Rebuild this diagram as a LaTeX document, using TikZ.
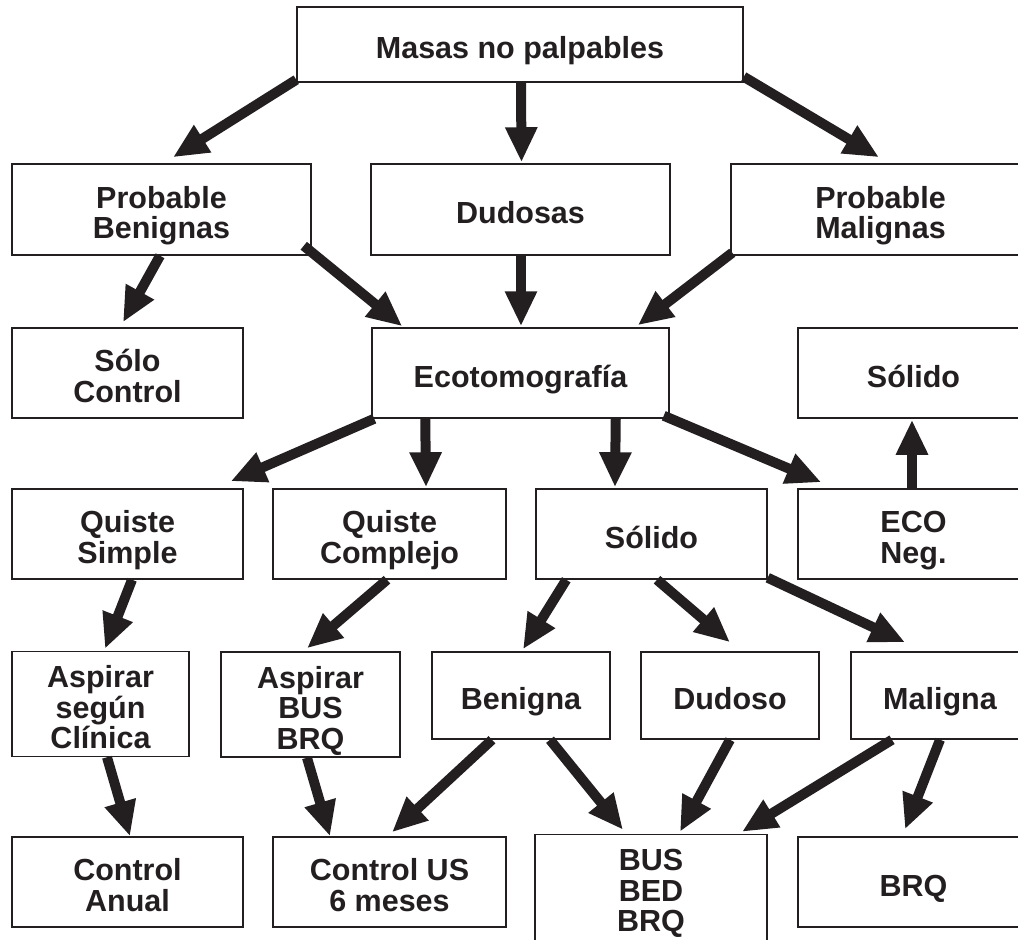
\documentclass[tikz,border=0pt]{standalone}
\usepackage{fontspec}
\setmainfont{Liberation Sans}
\usetikzlibrary{arrows.meta}
\definecolor{ink}{HTML}{231F20}
\newcommand\topst{\rule{0pt}{36pt}}
\newcommand\botst{\rule[-8pt]{0pt}{8pt}}
\newcommand\botlow{\rule[-28pt]{0pt}{28pt}}
\setlength{\lineskiplimit}{-30pt}
\tikzset{
  box/.style={draw=ink, line width=1.5pt, inner sep=0pt, align=center,
    text=ink, font=\fontsize{30.5}{30.5}\selectfont\bfseries},
  arr/.style={draw=ink, line width=10pt,
    -{Triangle[length=35pt,width=30pt]}},
}
\begin{document}
\begin{tikzpicture}[x=1pt,y=1pt]
\useasboundingbox (0,0) rectangle (1018,-940);
\clip (0,0) rectangle (1018,-940);
% row 1
\node[box, minimum width=446pt, minimum height=75pt] (masas) at (520,-44.5) {\topst Masas no palpables\botst};
% row 2
\node[box, minimum width=299pt, minimum height=91pt] (pb) at (161.5,-209.5) {\topst Probable\\Benignas\botst};
\node[box, minimum width=299pt, minimum height=91pt] (dud) at (520.5,-209.5) {\topst Dudosas\botst};
\node[box, minimum width=299pt, minimum height=91pt] (pm) at (880.5,-209.5) {\topst Probable\\Malignas\botst};
% row 3
\node[box, minimum width=231pt, minimum height=90pt] (solo) at (127.5,-373) {\topst Sólo\\Control\botst};
\node[box, minimum width=297pt, minimum height=90pt] (eco) at (520.5,-373) {\topst Ecotomografía\botst};
\node[box, minimum width=231pt, minimum height=90pt] (soltop) at (913.5,-373) {\topst Sólido\botst};
% row 4
\node[box, minimum width=231pt, minimum height=90pt] (qs) at (127.5,-534) {\topst Quiste\\Simple\botst};
\node[box, minimum width=233pt, minimum height=90pt] (qc) at (389.5,-534) {\topst Quiste\\Complejo\botst};
\node[box, minimum width=231pt, minimum height=90pt] (sol) at (651.5,-534) {\topst Sólido\botst};
\node[box, minimum width=231pt, minimum height=90pt] (econeg) at (913.5,-534) {\topst ECO\\Neg.\botst};
% row 5
\node[box, minimum width=177pt, minimum height=104pt] (asc) at (100.5,-704) {\topst Aspirar\\según\\Clínica\botst};
\node[box, minimum width=179pt, minimum height=105pt] (abb) at (310.5,-704.5) {\topst Aspirar\\BUS\\BRQ\botst};
\node[box, minimum width=178pt, minimum height=87pt] (ben) at (521,-695.5) {\topst Benigna\botst};
\node[box, minimum width=178pt, minimum height=87pt] (dudo) at (730,-695.5) {\topst Dudoso\botst};
\node[box, minimum width=178pt, minimum height=87pt] (mal) at (940,-695.5) {\topst Maligna\botst};
% row 6
\node[box, minimum width=231pt, minimum height=90pt] (ca) at (127.5,-882) {\topst Control\\Anual\botst};
\node[box, minimum width=233pt, minimum height=90pt] (cus) at (389.5,-882) {\topst Control US\\6 meses\botst};
\node[box, minimum width=232pt, minimum height=120pt] (bbb) at (651,-897) {\topst BUS\\BED\\BRQ\botlow};
\node[box, minimum width=231pt, minimum height=90pt] (brq) at (913.5,-882) {\topst BRQ\botst};
% arrows
\draw[arr] ([shift={(0,3)}]masas.south west) -- ([shift={(11.5,6)}]pb.north);
\draw[arr] ([shift={(1,0)}]masas.south) -- ([shift={(1,1)}]dud.north);
\draw[arr] ([shift={(0,6)}]masas.south east) -- ([shift={(-1.5,6)}]pm.north);
\draw[arr] ([shift={(-1.5,0)}]pb.south) -- ([shift={(-4.5,5)}]solo.north);
\draw[arr] ([shift={(-8,10)}]pb.south east) -- ([shift={(31,1)}]eco.north west);
\draw[arr] ([shift={(0.5,0)}]dud.south) -- ([shift={(0.5,1)}]eco.north);
\draw[arr] ([shift={(2,3)}]pm.south west) -- ([shift={(-32,2)}]eco.north east);
\draw[arr] ([shift={(3,0)}]eco.south west) -- ([shift={(-13,7)}]qs.north east);
\draw[arr] ([shift={(54,0)}]eco.south west) -- ([shift={(36.5,1)}]qc.north);
\draw[arr] ([shift={(-54,0)}]eco.south east) -- ([shift={(-36.5,1)}]sol.north);
\draw[arr] ([shift={(-6,3)}]eco.south east) -- ([shift={(24,6)}]econeg.north west);
\draw[arr] ([shift={(-1.5,0)}]econeg.north) -- ([shift={(-1.5,-1)}]soltop.south);
\draw[arr] ([shift={(31,0)}]sol.south west) -- ([shift={(2,2)}]ben.north);
\draw[arr] ([shift={(5.5,0)}]sol.south) -- ([shift={(0,9)}]dudo.north);
\draw[arr] ([shift={(0,2)}]sol.south east) -- ([shift={(-35,9)}]mal.north);
\draw[arr] ([shift={(4.5,0)}]qs.south) -- ([shift={(4.5,2)}]asc.north);
\draw[arr] ([shift={(-2.5,0)}]qc.south) -- ([shift={(-3.5,3)}]abb.north);
\draw[arr] ([shift={(6.5,0)}]asc.south) -- ([shift={(2.5,0)}]ca.north);
\draw[arr] ([shift={(-3.5,0)}]abb.south) -- ([shift={(-59.5,0)}]cus.north);
\draw[arr] ([shift={(-29,0)}]ben.south) -- ([shift={(2.5,4)}]cus.north);
\draw[arr] ([shift={(29,0)}]ben.south) -- ([shift={(-28,4)}]bbb.north);
\draw[arr] (dudo.south) -- ([shift={(29,2)}]bbb.north);
\draw[arr] ([shift={(-48,0)}]mal.south) -- ([shift={(91,2)}]bbb.north);
\draw[arr] (mal.south) -- ([shift={(-8.5,7)}]brq.north);
\end{tikzpicture}
\end{document}
